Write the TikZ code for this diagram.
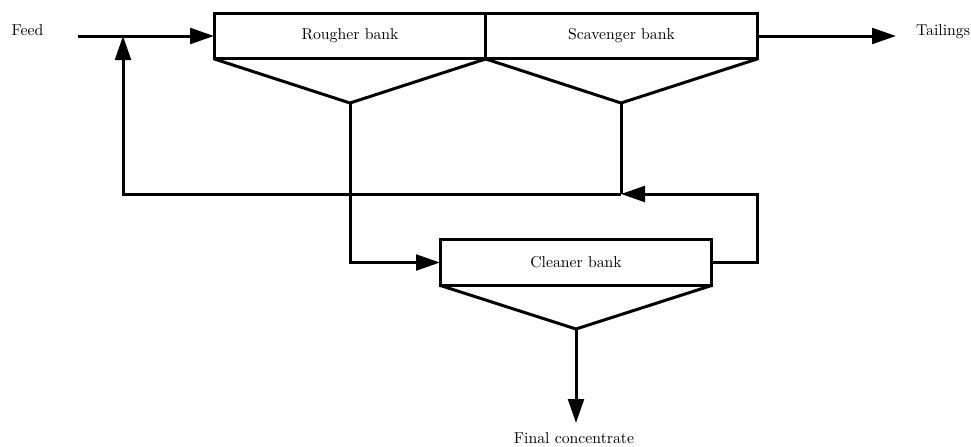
\documentclass[tikz,border=0pt]{standalone}
\usetikzlibrary{arrows.meta}
\begin{document}
\begin{tikzpicture}[x=0.6667pt,y=-0.6667pt,
  every node/.style={font=\fontsize{10.5}{12.6}\selectfont},
  bank/.style={draw, rectangle, minimum width=181.33pt, minimum height=30.5pt, inner sep=0pt, outer sep=0pt, line width=2pt},
  pipe/.style={line width=2pt},
  flow/.style={line width=2pt, -{Triangle[length=16pt,width=10.5pt]}},
  lbl/.style={inner sep=0pt, anchor=base}]
\useasboundingbox (0,0) rectangle (971,446);
% banks
\node[bank] (rougher) at (350,36) {Rougher bank};
\node[bank] (scav) at (621.5,36) {Scavenger bank};
\node[bank] (cleaner) at (576,262.5) {Cleaner bank};
% labels
\node[lbl] (feed) at (27.5,35.5) {Feed};
\node[lbl] (tail) at (943,35) {Tailings};
\node[lbl] (final) at (574,443) {Final concentrate};
% apexes and junctions
\coordinate (rapex) at (350,103);
\coordinate (sapex) at (621,103);
\coordinate (capex) at (576,329);
\coordinate (feedstart) at (78,36);
\coordinate (tailend) at (896,36);
\coordinate (recj) at (621,194);
\coordinate (cright) at (757,194);
\coordinate (feedj) at (123,36);
\coordinate (finalend) at (576,423);
% launders
\draw[pipe, line join=miter] (rougher.south west) -- (rapex) -- (rougher.south east);
\draw[pipe, line join=miter] (scav.south west) -- (sapex) -- (scav.south east);
\draw[pipe, line join=miter] (cleaner.south west) -- (capex) -- (cleaner.south east);
% flows
\draw[flow] (feedstart) -- (rougher.west);
\draw[flow] (scav.east) -- (tailend);
\draw[pipe] (sapex) -- (recj);
\draw[flow] (cleaner.east) -| (cright) -- (recj);
\draw[flow] (recj) -| (feedj);
\draw[flow] (rapex) |- (cleaner.west);
\draw[flow] (capex) -- (finalend);
\end{tikzpicture}
\end{document}
